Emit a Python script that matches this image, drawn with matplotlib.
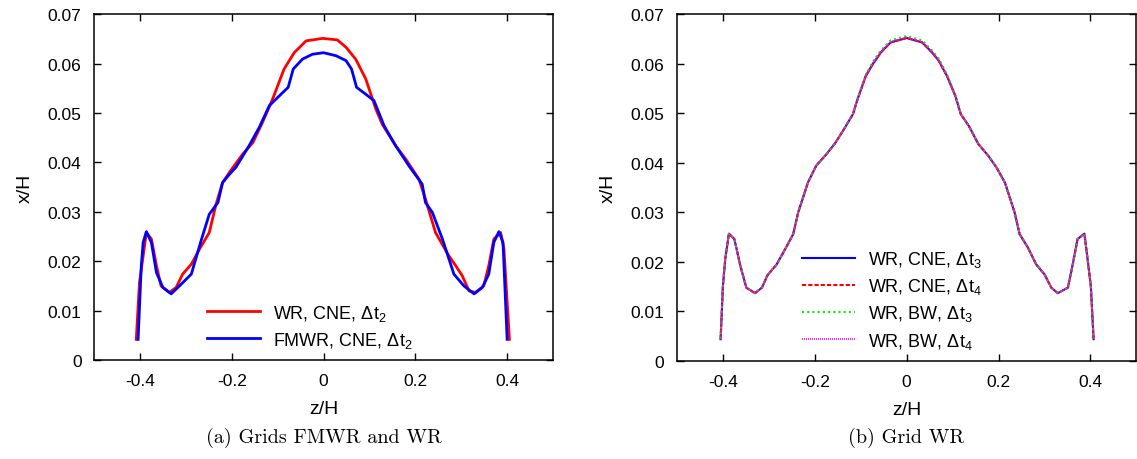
import matplotlib
matplotlib.use("Agg")
import matplotlib.pyplot as plt

plt.rcParams['font.family'] = ['Liberation Sans', 'DejaVu Sans']
plt.rcParams['mathtext.fontset'] = 'custom'
plt.rcParams['mathtext.rm'] = 'Liberation Sans'
plt.rcParams['mathtext.it'] = 'Liberation Sans:italic'
plt.rcParams['axes.unicode_minus'] = False

# ---- (a) grids FMWR and WR ----
z_wr = [-0.408, -0.401, -0.386, -0.375, -0.364, -0.354, -0.336, -0.321, -0.307, -0.288,
        -0.270, -0.249, -0.234, -0.220, -0.205, -0.176, -0.154, -0.133, -0.111, -0.086,
        -0.064, -0.038, -0.002, 0.030, 0.049, 0.070, 0.092, 0.114, 0.128, 0.157,
        0.179, 0.208, 0.222, 0.244, 0.273, 0.288, 0.302, 0.317, 0.331, 0.349,
        0.360, 0.371, 0.386, 0.393, 0.405]
x_wr = [0.0042, 0.0157, 0.0258, 0.0245, 0.0191, 0.0150, 0.0137, 0.0147, 0.0174, 0.0194,
        0.0225, 0.0258, 0.0316, 0.0359, 0.0380, 0.0417, 0.0440, 0.0481, 0.0528, 0.0589,
        0.0622, 0.0646, 0.0651, 0.0648, 0.0633, 0.0609, 0.0569, 0.0508, 0.0477, 0.0434,
        0.0407, 0.0366, 0.0326, 0.0258, 0.0211, 0.0191, 0.0171, 0.0140, 0.0137, 0.0150,
        0.0191, 0.0245, 0.0258, 0.0225, 0.0042]

z_fmwr = [-0.404, -0.397, -0.393, -0.386, -0.375, -0.364, -0.350, -0.332, -0.314, -0.288,
          -0.267, -0.249, -0.230, -0.220, -0.205, -0.191, -0.162, -0.140, -0.118, -0.096,
          -0.077, -0.066, -0.046, -0.024, 0.000, 0.027, 0.049, 0.061, 0.072, 0.092,
          0.110, 0.132, 0.157, 0.186, 0.215, 0.222, 0.237, 0.259, 0.284, 0.306,
          0.328, 0.346, 0.360, 0.371, 0.382, 0.391, 0.400]
x_fmwr = [0.0042, 0.0191, 0.0238, 0.0260, 0.0238, 0.0177, 0.0147, 0.0134, 0.0150, 0.0174,
          0.0241, 0.0295, 0.0319, 0.0359, 0.0376, 0.0390, 0.0434, 0.0471, 0.0515, 0.0535,
          0.0552, 0.0589, 0.0609, 0.0619, 0.0622, 0.0616, 0.0606, 0.0589, 0.0552, 0.0538,
          0.0525, 0.0474, 0.0434, 0.0393, 0.0356, 0.0319, 0.0299, 0.0245, 0.0174, 0.0150,
          0.0134, 0.0147, 0.0174, 0.0238, 0.0260, 0.0238, 0.0042]

# ---- (b) grid WR, four runs ----
z_b = [-0.405, -0.400, -0.395, -0.387, -0.375, -0.362, -0.349, -0.330, -0.315, -0.303,
       -0.283, -0.265, -0.247, -0.236, -0.215, -0.197, -0.175, -0.157, -0.139, -0.117,
       -0.107, -0.089, -0.074, -0.056, -0.035, 0.000, 0.034, 0.055, 0.070, 0.088,
       0.106, 0.118, 0.135, 0.156, 0.178, 0.196, 0.214, 0.235, 0.246, 0.264,
       0.282, 0.300, 0.315, 0.329, 0.351, 0.361, 0.372, 0.387, 0.394, 0.401, 0.407]
x_cne_dt3 = [0.0044, 0.0151, 0.0205, 0.0257, 0.0246, 0.0192, 0.0148, 0.0137, 0.0148, 0.0173,
             0.0195, 0.0225, 0.0256, 0.0300, 0.0360, 0.0394, 0.0417, 0.0438, 0.0464, 0.0498,
             0.0528, 0.0575, 0.0599, 0.0623, 0.0643, 0.0652, 0.0643, 0.0623, 0.0606, 0.0575,
             0.0535, 0.0498, 0.0475, 0.0438, 0.0414, 0.0390, 0.0360, 0.0300, 0.0256, 0.0229,
             0.0195, 0.0175, 0.0148, 0.0137, 0.0148, 0.0192, 0.0246, 0.0257, 0.0205, 0.0151, 0.0044]
x_cne_dt4 = [0.0044, 0.0151, 0.0205, 0.0257, 0.0246, 0.0192, 0.0148, 0.0137, 0.0148, 0.0173,
             0.0195, 0.0225, 0.0256, 0.0300, 0.0360, 0.0394, 0.0417, 0.0438, 0.0464, 0.0498,
             0.0528, 0.0575, 0.0599, 0.0623, 0.0643, 0.0652, 0.0643, 0.0623, 0.0606, 0.0575,
             0.0535, 0.0498, 0.0475, 0.0438, 0.0414, 0.0390, 0.0360, 0.0300, 0.0256, 0.0229,
             0.0195, 0.0175, 0.0148, 0.0137, 0.0148, 0.0192, 0.0246, 0.0257, 0.0205, 0.0151, 0.0044]
x_bw_dt3 = [0.0044, 0.0151, 0.0205, 0.0257, 0.0246, 0.0192, 0.0148, 0.0137, 0.0148, 0.0173,
            0.0195, 0.0225, 0.0256, 0.0300, 0.0360, 0.0394, 0.0417, 0.0438, 0.0464, 0.0499,
            0.0530, 0.0578, 0.0603, 0.0627, 0.0647, 0.0656, 0.0647, 0.0627, 0.0610, 0.0578,
            0.0537, 0.0499, 0.0475, 0.0438, 0.0414, 0.0390, 0.0360, 0.0300, 0.0256, 0.0229,
            0.0195, 0.0175, 0.0148, 0.0137, 0.0148, 0.0192, 0.0246, 0.0257, 0.0205, 0.0151, 0.0044]
x_bw_dt4 = [0.0044, 0.0151, 0.0205, 0.0257, 0.0246, 0.0192, 0.0148, 0.0137, 0.0148, 0.0173,
            0.0195, 0.0225, 0.0256, 0.0300, 0.0360, 0.0394, 0.0417, 0.0438, 0.0464, 0.0498,
            0.0529, 0.0576, 0.0600, 0.0624, 0.0644, 0.0653, 0.0644, 0.0624, 0.0607, 0.0576,
            0.0535, 0.0498, 0.0475, 0.0438, 0.0414, 0.0390, 0.0360, 0.0300, 0.0256, 0.0229,
            0.0195, 0.0175, 0.0148, 0.0137, 0.0148, 0.0192, 0.0246, 0.0257, 0.0205, 0.0151, 0.0044]

xticks = [-0.4, -0.2, 0, 0.2, 0.4]
xticklabels = ['-0.4', '-0.2', '0', '0.2', '0.4']
yticks = [0, 0.01, 0.02, 0.03, 0.04, 0.05, 0.06, 0.07]
yticklabels = ['0', '0.01', '0.02', '0.03', '0.04', '0.05', '0.06', '0.07']

fig = plt.figure(figsize=(11.37, 4.6), dpi=100)
ax1 = fig.add_axes([0.0827, 0.215, 0.4037, 0.752])
ax2 = fig.add_axes([0.5954, 0.213, 0.4040, 0.754])


def style(ax):
    ax.set_xlim(-0.5, 0.5)
    ax.set_ylim(0, 0.07)
    ax.set_xticks(xticks)
    ax.set_xticklabels(xticklabels)
    ax.set_yticks(yticks)
    ax.set_yticklabels(yticklabels)
    ax.tick_params(direction='in', top=True, right=True, length=5, width=1,
                   labelsize=12.5, pad=9)
    for s in ax.spines.values():
        s.set_linewidth(1.1)
    ax.set_xlabel('z/H', fontsize=14, labelpad=9)
    ax.set_ylabel('x/H', fontsize=14, labelpad=10)


ax1.plot(z_wr, x_wr, color='#ff0000', lw=2.0, label=r'WR, CNE, $\Delta\mathrm{t}_2$')
ax1.plot(z_fmwr, x_fmwr, color='#0000ff', lw=2.0, label=r'FMWR, CNE, $\Delta\mathrm{t}_2$')
style(ax1)
ax1.legend(loc='lower left', bbox_to_anchor=(0.246, 0.03), frameon=False, fontsize=13,
           borderpad=0, borderaxespad=0,
           handlelength=2.95, handletextpad=0.7, labelspacing=0.4)

ax2.plot(z_b, x_cne_dt3, color='#0000ff', lw=1.5, label=r'WR, CNE, $\Delta\mathrm{t}_3$')
ax2.plot(z_b, x_cne_dt4, color='#ff0000', lw=1.5, ls=(0, (2, 1)), label=r'WR, CNE, $\Delta\mathrm{t}_4$')
ax2.plot(z_b, x_bw_dt3, color='#00ee00', lw=1.5, ls=(0, (1, 1.5)), label=r'WR, BW, $\Delta\mathrm{t}_3$')
ax2.plot(z_b, x_bw_dt4, color='#ff00ff', lw=1.2, ls=(0, (0.6, 0.6)), label=r'WR, BW, $\Delta\mathrm{t}_4$')
style(ax2)
ax2.legend(loc='lower left', bbox_to_anchor=(0.272, 0.03), frameon=False, fontsize=13,
           borderpad=0, borderaxespad=0,
           handlelength=2.95, handletextpad=0.7, labelspacing=0.4)

fig.text(0.2845, 0.038, '(a) Grids FMWR and WR', fontsize=14.5, family='cmr10', ha='center')
fig.text(0.797, 0.038, '(b) Grid WR', fontsize=14.5, family='cmr10', ha='center')

fig.savefig('out.png', dpi=100)
